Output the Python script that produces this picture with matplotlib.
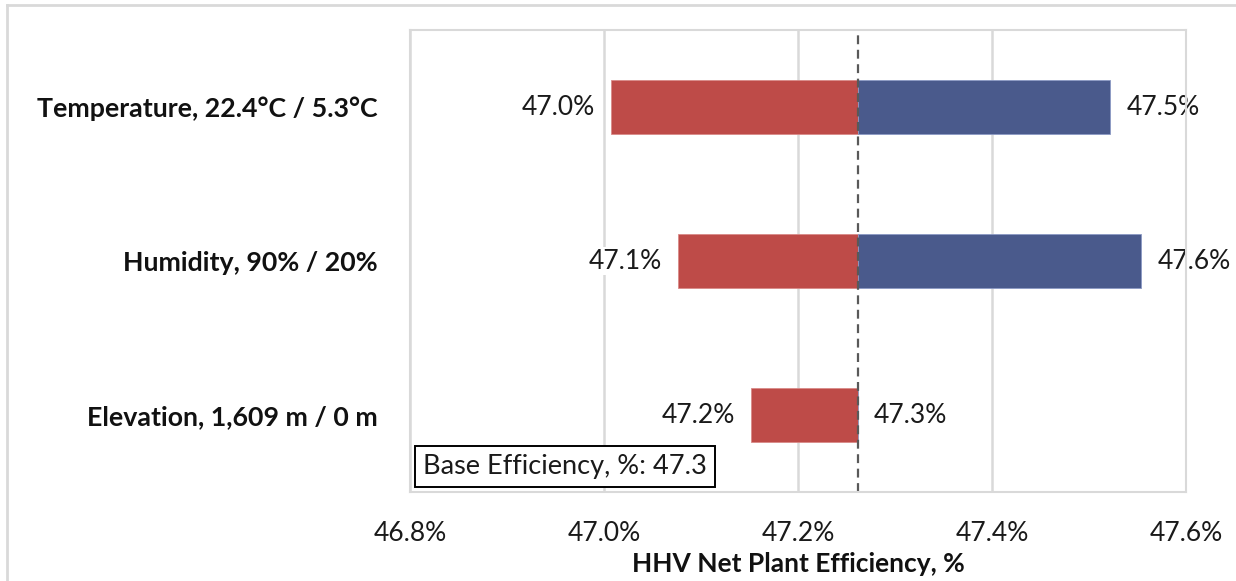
import matplotlib.pyplot as plt
from matplotlib.lines import Line2D

plt.rcParams['font.family'] = ['Lato', 'DejaVu Sans']

# data
categories = ['Temperature, 22.4°C / 5.3°C', 'Humidity, 90% / 20%', 'Elevation, 1,609 m / 0 m']
low_vals = [47.007, 47.076, 47.152]
high_vals = [47.522, 47.554, 47.262]
base_eff = 47.262
x_ticks = [46.8, 47.0, 47.2, 47.4, 47.6]

red = '#BE4B48'
blue = '#4A5A8C'
grid_c = '#D9D9D9'

fig = plt.figure(figsize=(12.36, 5.81), dpi=100)
ax = fig.add_axes([410 / 1236, 1 - 492 / 581, 776 / 1236, 462 / 581])

y = list(range(len(categories)))
bar_h = 0.35

# low side drawn from base leftwards, high side from base rightwards
ax.barh(y, [lo - base_eff for lo in low_vals], left=base_eff, height=bar_h,
        color=red, edgecolor='#D98A88', linewidth=0.6, zorder=2)
ax.barh(y, [hi - base_eff for hi in high_vals], left=base_eff, height=bar_h,
        color=blue, edgecolor='#8C9AC4', linewidth=0.6, zorder=2)

ax.axvline(base_eff, color='#595959', linestyle=(0, (4, 2.5)), linewidth=1.6, zorder=3)

for yi, lo, hi in zip(y, low_vals, high_vals):
    ax.annotate(f'{lo:.1f}%', xy=(lo, yi), xytext=(-11.5, 0), textcoords='offset points',
                ha='right', va='center', fontsize=19, color='#1a1a1a', zorder=4,
                bbox=dict(facecolor='white', edgecolor='none', pad=1))
    ax.annotate(f'{hi:.1f}%', xy=(hi, yi), xytext=(11.5, 0), textcoords='offset points',
                ha='left', va='center', fontsize=19, color='#1a1a1a', zorder=4,
                bbox=dict(facecolor='white', edgecolor='none', pad=1))

ax.set_xlim(x_ticks[0], x_ticks[-1])
ax.set_ylim(len(categories) - 0.5, -0.5)
ax.set_xticks(x_ticks)
ax.set_xticklabels([f'{t:.1f}%' for t in x_ticks], fontsize=19, color='#1a1a1a')
ax.set_yticks(y)
ax.set_yticklabels(categories, fontsize=19.3, fontweight='bold', color='#111111')
ax.tick_params(axis='both', length=0)
ax.tick_params(axis='x', pad=21)
ax.tick_params(axis='y', pad=23)

ax.grid(axis='x', color=grid_c, linewidth=1.8, zorder=0)
ax.set_axisbelow(True)
for s in ax.spines.values():
    s.set_color(grid_c)
    s.set_linewidth(1.5)
    s.set_zorder(5)

ax.set_xlabel('HHV Net Plant Efficiency, %', fontsize=19, fontweight='bold', labelpad=4, color='#111111')

ax.text(0.0168, 0.028, f'Base Efficiency, %: {base_eff:.1f}', transform=ax.transAxes,
        ha='left', va='bottom', fontsize=19.5, color='#1a1a1a', zorder=6,
        bbox=dict(boxstyle='square,pad=0.3', facecolor='white', edgecolor='black', linewidth=1.4))

# outer frame lines (top and left only visible in the crop)
fig.add_artist(Line2D([7 / 1236, 7 / 1236], [0, 1 - 5 / 581], transform=fig.transFigure,
                      color=grid_c, linewidth=2))
fig.add_artist(Line2D([7 / 1236, 1], [1 - 5 / 581, 1 - 5 / 581], transform=fig.transFigure,
                      color=grid_c, linewidth=2))

fig.savefig('out.png', dpi=100)
